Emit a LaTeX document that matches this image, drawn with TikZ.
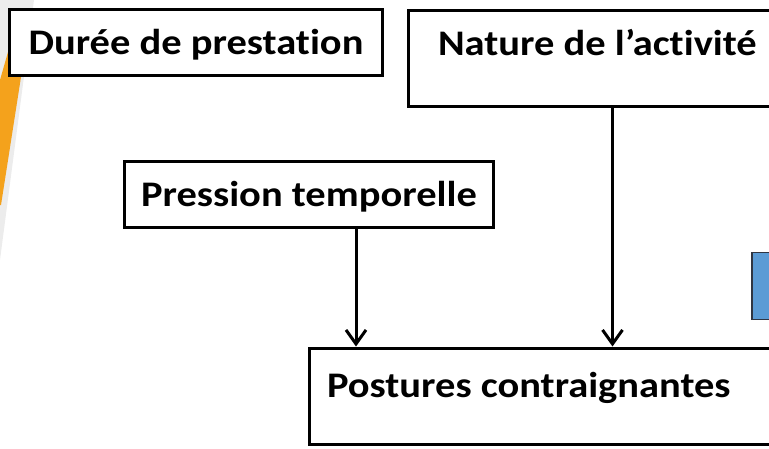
\documentclass[tikz,border=0pt]{standalone}
\usepackage{fontspec}
\setmainfont{Carlito}[FakeStretch=1.125, Ligatures=NoCommon]
\usetikzlibrary{arrows.meta}
\definecolor{swoosh}{HTML}{F4A21C}
\definecolor{paper}{HTML}{ECECEC}
\definecolor{bluefill}{HTML}{5B9BD5}
\definecolor{blueline}{HTML}{2F3542}
\begin{document}
\begin{tikzpicture}[x=1pt,y=-1pt,
  box/.style={draw, line width=3pt, fill=white, inner ysep=0pt,
    font=\bfseries\fontsize{36}{40}\selectfont, text height=23.5pt},
  arr/.style={line width=3pt, -{Straight Barb[length=14pt,width=20pt]}}]
\useasboundingbox (0,0) rectangle (769,448);
% slide background: grey band and orange swoosh at the left edge
\fill[paper] (0,0) -- (34,0) -- (0,260) -- cycle;
\fill[swoosh] (8,52) -- (26,45) -- (1,205) -- (0,205) -- (0,80) -- cycle;
% factor boxes
\node[box, text depth=0pt, inner xsep=0pt, minimum width=373pt, minimum height=66pt]
  (duree) at (196,42.5) {Durée de prestation};
\node[box, text depth=29pt, inner xsep=29.5pt, minimum height=96pt, anchor=north west]
  (nature) at (407,8.5) {\makebox[400pt][l]{Nature de l’activité}};
\node[box, text depth=0pt, inner xsep=0pt, minimum width=369pt, minimum height=66pt]
  (pression) at (309,194.5) {Pression temporelle};
\node[box, text depth=21pt, inner xsep=17.5pt, minimum height=96pt, anchor=north west]
  (postures) at (308,346.5) {\makebox[500pt][l]{Postures contraignantes}};
% blue marker at the right edge
\node[draw=blueline, fill=bluefill, line width=1.5pt, inner sep=0pt,
  minimum width=60pt, minimum height=67pt, anchor=north west]
  (marker) at (751,251.5) {};
% arrows into the outcome box
\coordinate (c1) at (356,0);
\coordinate (c2) at (612.5,0);
\draw[arr] (pression.south -| c1) -- (postures.north -| c1);
\draw[arr] (nature.south -| c2) -- (postures.north -| c2);
\end{tikzpicture}
\end{document}
